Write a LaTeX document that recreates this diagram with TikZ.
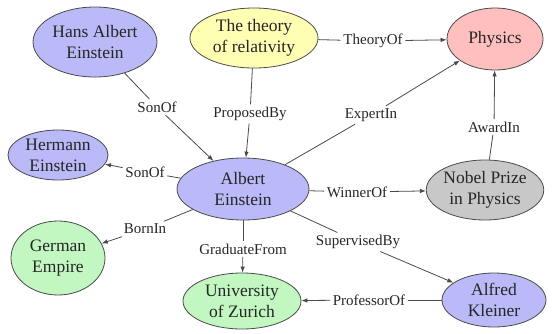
\documentclass[tikz,border=0pt]{standalone}
\usepackage{fontspec}
\setmainfont{Liberation Serif}
\usepackage{tikz}
\usetikzlibrary{arrows.meta,positioning,shapes.geometric}
\definecolor{kg-person}{HTML}{BABAF8}
\definecolor{kg-theory}{HTML}{FFFFB4}
\definecolor{kg-field}{HTML}{FFBFBF}
\definecolor{kg-award}{HTML}{C8C8C8}
\definecolor{kg-place}{HTML}{C2F7C2}
\definecolor{kg-line}{HTML}{4A4A4A}

\begin{document}
\begin{tikzpicture}[x=1pt,y=-1pt,
  ent/.style={ellipse, draw=kg-line, line width=0.8pt, inner sep=0pt, align=center,
    text=black!85, font=\fontsize{17.5}{21}\selectfont},
  rel/.style={fill=white, inner sep=2.5pt, text=black!85, font=\fontsize{15}{17}\selectfont},
  link/.style={kg-line, line width=0.8pt},
  tip/.style={link, -{Latex[length=6pt,width=4.5pt]}}]
\useasboundingbox (0,0) rectangle (552,333);
\node[ent, fill=kg-person, minimum width=124pt, minimum height=70pt] (hans) at (95,42) {Hans Albert\\Einstein};
\node[ent, fill=kg-theory, minimum width=128pt, minimum height=60pt] (theory) at (254,38) {The theory\\of relativity};
\node[ent, fill=kg-field, minimum width=96pt, minimum height=62pt] (physics) at (495,39) {Physics};
\node[ent, fill=kg-person, minimum width=100pt, minimum height=50pt] (hermann) at (58,155) {Hermann\\Einstein};
\node[ent, fill=kg-person, minimum width=132pt, minimum height=62pt] (albert) at (243,189) {Albert\\Einstein};
\node[ent, fill=kg-award, minimum width=116pt, minimum height=60pt] (nobel) at (485,190) {Nobel Prize\\in Physics};
\node[ent, fill=kg-place, minimum width=94pt, minimum height=74pt] (german) at (58,258) {German\\Empire};
\node[ent, fill=kg-place, minimum width=118pt, minimum height=56pt] (zurich) at (242,301) {University\\of Zurich};
\node[ent, fill=kg-person, minimum width=104pt, minimum height=54pt] (alfred) at (494,300) {Alfred\\Kleiner};

\node[rel] (sonA) at (157,107) {SonOf};
\node[rel] (proposed) at (250,114) {ProposedBy};
\node[rel] (theoryOf) at (373,41) {TheoryOf};
\node[rel] (expert) at (371,115) {ExpertIn};
\node[rel] (award) at (494,127) {AwardIn};
\node[rel] (sonH) at (145,172) {SonOf};
\node[rel] (winner) at (357,192) {WinnerOf};
\node[rel] (born) at (145,229) {BornIn};
\node[rel] (graduate) at (243,249) {GraduateFrom};
\node[rel] (supervised) at (358,242) {SupervisedBy};
\node[rel] (professor) at (369,300) {ProfessorOf};

\foreach \a/\l/\b in {hans/sonA/albert, theory/proposed/albert, theory/theoryOf/physics,
    albert/expert/physics, nobel/award/physics, albert/sonH/hermann, albert/winner/nobel,
    albert/born/german, albert/graduate/zurich, albert/supervised/alfred, alfred/professor/zurich}{
  \draw[link] (\a) -- (\l);
  \draw[tip] (\l) -- (\b);
}
\end{tikzpicture}
\end{document}
